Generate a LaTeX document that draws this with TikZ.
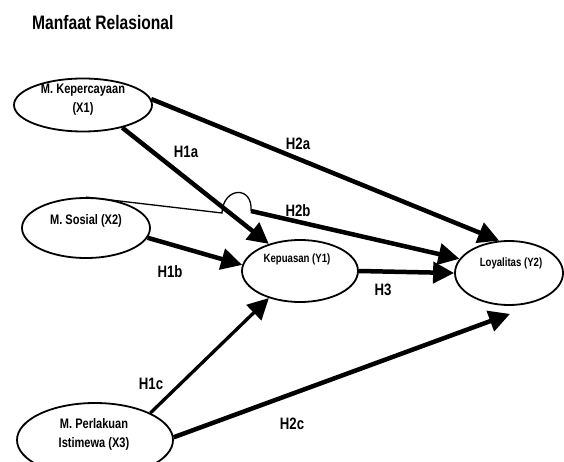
\documentclass[tikz,border=0pt]{standalone}
\usepackage{fontspec}
\setmainfont{Liberation Sans}[FakeStretch=0.8]
\usetikzlibrary{arrows.meta, shapes.geometric, calc}

\begin{document}
\begin{tikzpicture}[x=1pt, y=-1pt,
    var/.style={
        ellipse, draw=black, line width=1.8pt, fill=white,
        inner sep=0pt
    },
    vtext/.style={
        font=\bfseries\fontsize{13.8}{19}\selectfont,
        align=center, inner sep=0pt, text=black
    },
    ytext/.style={
        font=\bfseries\fontsize{12}{14}\selectfont,
        inner sep=0pt, text=black
    },
    hlabel/.style={
        font=\bfseries\fontsize{16.5}{18}\selectfont,
        inner sep=0pt
    },
    hyp/.style={-{Triangle[length=21pt, width=21pt]}, line width=#1},
    hyp/.default=4.5pt,
]
\useasboundingbox (0,0) rectangle (564,462);

% Title
\node[font=\bfseries\fontsize{19.5}{23}\selectfont, anchor=west, inner sep=0pt]
    (title) at (32,23) {Manfaat Relasional};

% Left column - independent variables
\node[var, minimum width=138pt, minimum height=53pt] (x1) at (83,105) {};
\node[var, minimum width=128pt, minimum height=60pt] (x2) at (86,228) {};
\node[var, minimum width=156pt, minimum height=74pt] (x3) at (95,440) {};

% Middle and right - Kepuasan, Loyalitas
\node[var, minimum width=116pt, minimum height=62pt] (y1) at (300,271) {};
\node[var, minimum width=108pt, minimum height=64pt] (y2) at (509,273) {};

% Texts inside the ellipses
\node[vtext] (x1t) at (83,100) {M. Kepercayaan\\(X1)};
\node[vtext] (x2t) at (86,221) {M. Sosial (X2)};
\node[vtext] (x3t) at (94,434) {M. Perlakuan\\Istimewa (X3)};
\node[ytext] (y1t) at (297,259) {Kepuasan (Y1)};
\node[ytext] (y2t) at (511,263) {Loyalitas (Y2)};

% Hypothesis labels
\node[hlabel] (h1a) at (186,152) {H1a};
\node[hlabel] (h2a) at (298,144) {H2a};
\node[hlabel] (h2b) at (298,211) {H2b};
\node[hlabel] (h1b) at (170,272) {H1b};
\node[hlabel] (h3)  at (383,290) {H3};
\node[hlabel] (h1c) at (151,384) {H1c};
\node[hlabel] (h2c) at (292,424) {H2c};

% Arrows - from X1
\draw[hyp] (x1.5)   -- (y2.107);
\draw[hyp] (x1.-30) -- (y1.139);

% Arrows - from X2 (thin line hopping over H1a)
\coordinate (hopL) at (222,213);
\coordinate (hopR) at (251,211);
\draw[line width=1.3pt] (x2.north) -- (hopL)
    .. controls (223,187) and (253,185) .. (hopR);
\draw[hyp] (hopR)  -- (y2.164);
\draw[hyp] (x2.-9) -- (y1.174);

% Arrow - Kepuasan to Loyalitas
\draw[hyp] (y1.east) -- (y2.west);

% Arrows - from X3
\draw[hyp=3.3pt] (x3.26) -- (y1.221);
\draw[hyp] (x3.2) -- ($(y2.south)+(1,8)$);

\end{tikzpicture}
\end{document}
